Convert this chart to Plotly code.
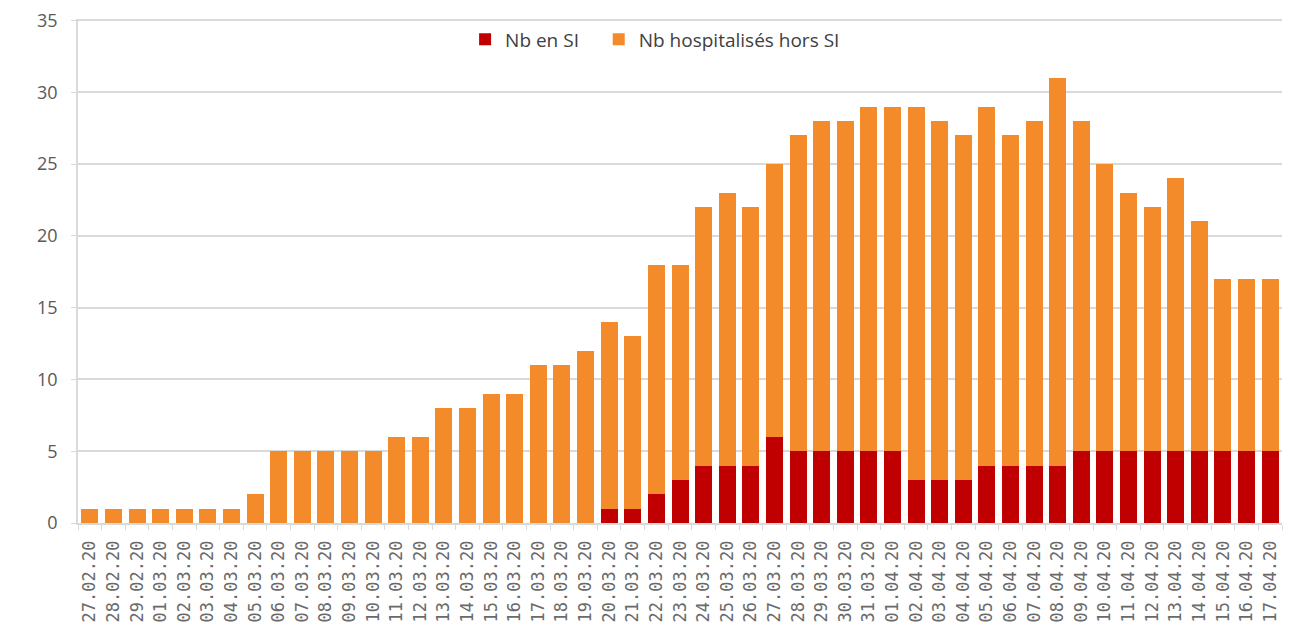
import plotly.graph_objects as go

dates = ["27.02.20", "28.02.20", "29.02.20", "01.03.20", "02.03.20", "03.03.20", "04.03.20",
         "05.03.20", "06.03.20", "07.03.20", "08.03.20", "09.03.20", "10.03.20", "11.03.20",
         "12.03.20", "13.03.20", "14.03.20", "15.03.20", "16.03.20", "17.03.20", "18.03.20",
         "19.03.20", "20.03.20", "21.03.20", "22.03.20", "23.03.20", "24.03.20", "25.03.20",
         "26.03.20", "27.03.20", "28.03.20", "29.03.20", "30.03.20", "31.03.20", "01.04.20",
         "02.04.20", "03.04.20", "04.04.20", "05.04.20", "06.04.20", "07.04.20", "08.04.20",
         "09.04.20", "10.04.20", "11.04.20", "12.04.20", "13.04.20", "14.04.20", "15.04.20",
         "16.04.20", "17.04.20"]

nb_si = [0, 0, 0, 0, 0, 0, 0,
         0, 0, 0, 0, 0, 0, 0,
         0, 0, 0, 0, 0, 0, 0,
         0, 1, 1, 2, 3, 4, 4,
         4, 6, 5, 5, 5, 5, 5,
         3, 3, 3, 4, 4, 4, 4,
         5, 5, 5, 5, 5, 5, 5,
         5, 5]

nb_hors_si = [1, 1, 1, 1, 1, 1, 1,
              2, 5, 5, 5, 5, 5, 6,
              6, 8, 8, 9, 9, 11, 11,
              12, 13, 12, 16, 15, 18, 19,
              18, 19, 22, 23, 23, 24, 24,
              26, 25, 24, 25, 23, 24, 27,
              23, 20, 18, 17, 19, 16, 12,
              12, 12]

series_names = ["Nb en SI", "Nb hospitalisés hors SI"]
colors = ["#C00000", "#F38B2B"]

fig = go.Figure()
fig.add_trace(go.Bar(x=dates, y=nb_si, name=series_names[0], marker_color=colors[0],
                     marker_line_width=0, legend="legend"))
fig.add_trace(go.Bar(x=dates, y=nb_hors_si, name=series_names[1], marker_color=colors[1],
                     marker_line_width=0, legend="legend2"))

legend_style = dict(orientation="h", y=0.997, yanchor="top", xanchor="left",
                    font=dict(size=19, color="#404040"),
                    bgcolor="rgba(0,0,0,0)", itemwidth=30)

fig.update_layout(
    barmode="stack",
    bargap=0.28,
    width=1298, height=641,
    margin=dict(l=70, r=24, t=11, b=126, autoexpand=False),
    paper_bgcolor="white",
    plot_bgcolor="white",
    font=dict(family="Open Sans", color="#595959", size=16),
    showlegend=True,
    legend=dict(x=0.3215, **legend_style),
    legend2=dict(x=0.4325, **legend_style),
)

fig.update_yaxes(range=[0, 35.1], tickvals=[0, 5, 10, 15, 20, 25, 30, 35],
                 showgrid=True, gridcolor="#D9D9D9", gridwidth=1.5,
                 zeroline=False, showline=True, linecolor="#D9D9D9", linewidth=1.5,
                 ticks="outside", ticklen=5, tickcolor="#D9D9D9", automargin=False,
                 ticklabeloverflow="allow",
                 tickfont=dict(size=18, color="#595959"), ticklabelstandoff=10)
fig.update_xaxes(type="category", tickangle=-90, showline=True, linecolor="#D9D9D9",
                 linewidth=1.5, ticks="outside", tickson="boundaries", ticklen=5,
                 tickcolor="#D9D9D9", automargin=False, ticklabelstandoff=9,
                 tickfont=dict(family="DejaVu Sans Mono", size=17, color="#6A6A6A"))

fig.write_html("out.html")
